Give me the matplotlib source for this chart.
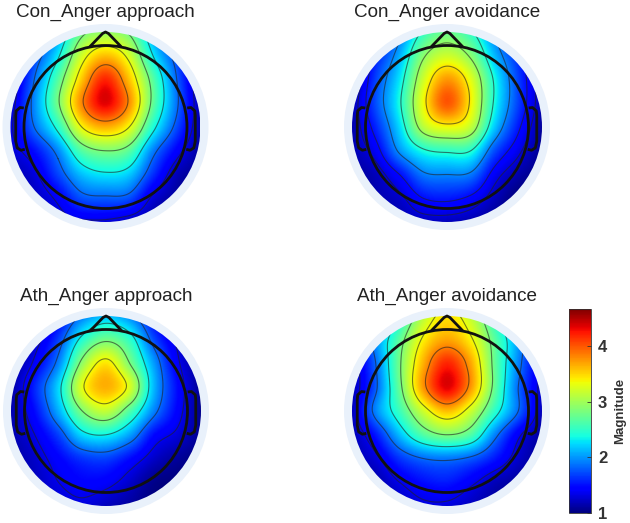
import numpy as np
import matplotlib
matplotlib.use("Agg")
import matplotlib.pyplot as plt
from matplotlib.patches import Circle, PathPatch
from matplotlib.path import Path
from matplotlib.cm import ScalarMappable
from matplotlib.colors import Normalize

plt.rcParams['font.family'] = ['Liberation Sans', 'DejaVu Sans']

W, H = 630, 523

titles = ["Con_Anger approach", "Con_Anger avoidance",
          "Ath_Anger approach", "Ath_Anger avoidance"]

# Scalp positions (fraction of the map radius)
grid_x = [-1, -0.75, -0.5, -0.25, 0, 0.25, 0.5, 0.75, 1]
grid_y = [1, 0.75, 0.5, 0.25, 0, -0.25, -0.5, -0.75, -1]

con_approach = [
    [1.00, 1.40, 2.00, 2.75, 2.95, 2.80, 2.05, 1.40, 1.00],
    [1.05, 1.65, 2.30, 3.20, 3.60, 3.25, 2.35, 1.70, 1.05],
    [1.10, 1.85, 2.65, 3.55, 4.20, 3.60, 2.70, 1.85, 1.10],
    [1.20, 1.95, 2.80, 3.80, 4.35, 3.80, 2.75, 1.90, 1.15],
    [1.30, 1.85, 2.45, 3.35, 3.65, 3.35, 2.45, 1.75, 1.15],
    [1.25, 1.50, 1.95, 2.65, 2.85, 2.70, 1.95, 1.45, 1.10],
    [1.15, 1.30, 1.70, 2.15, 2.30, 2.20, 1.65, 1.20, 1.05],
    [1.10, 1.20, 1.40, 1.75, 1.80, 1.75, 1.30, 1.10, 1.00],
    [1.05, 1.15, 1.25, 1.30, 1.30, 1.20, 1.10, 1.00, 1.00],
]
con_avoidance = [
    [1.00, 1.30, 1.85, 2.50, 2.75, 2.50, 1.90, 1.35, 1.00],
    [1.05, 1.55, 2.10, 2.90, 3.20, 2.90, 2.15, 1.60, 1.10],
    [1.05, 1.70, 2.30, 3.20, 3.75, 3.30, 2.40, 1.70, 1.15],
    [1.15, 1.75, 2.40, 3.35, 4.00, 3.40, 2.40, 1.70, 1.15],
    [1.15, 1.60, 2.25, 3.10, 3.35, 3.15, 2.20, 1.55, 1.10],
    [1.15, 1.40, 2.00, 2.40, 2.50, 2.45, 1.75, 1.35, 1.05],
    [1.10, 1.20, 1.50, 1.90, 1.95, 1.90, 1.40, 1.15, 1.00],
    [1.05, 1.15, 1.25, 1.50, 1.55, 1.45, 1.20, 1.00, 1.00],
    [1.00, 1.10, 1.15, 1.20, 1.20, 1.15, 1.05, 1.00, 1.00],
]
ath_approach = [
    [1.00, 1.10, 1.40, 1.90, 2.15, 1.95, 1.45, 1.15, 1.00],
    [1.00, 1.25, 1.70, 2.45, 2.80, 2.50, 1.75, 1.30, 1.00],
    [1.05, 1.40, 1.95, 2.95, 3.45, 2.85, 2.05, 1.40, 1.05],
    [1.10, 1.60, 2.25, 3.30, 3.65, 3.25, 2.15, 1.50, 1.05],
    [1.15, 1.50, 2.10, 2.85, 3.15, 2.65, 1.95, 1.45, 1.05],
    [1.15, 1.35, 1.70, 2.25, 2.35, 2.05, 1.50, 1.30, 1.05],
    [1.10, 1.25, 1.45, 1.65, 1.70, 1.50, 1.25, 1.10, 1.00],
    [1.10, 1.20, 1.35, 1.45, 1.42, 1.25, 1.05, 1.00, 1.00],
    [1.05, 1.15, 1.25, 1.30, 1.20, 1.10, 1.00, 1.00, 1.00],
]
ath_avoidance = [
    [1.05, 1.60, 2.35, 3.10, 3.45, 3.15, 2.45, 1.70, 1.05],
    [1.10, 1.95, 2.70, 3.40, 3.70, 3.40, 2.70, 2.00, 1.15],
    [1.15, 1.85, 2.80, 3.65, 4.20, 3.70, 2.75, 1.95, 1.25],
    [1.15, 1.80, 2.75, 3.75, 4.35, 3.75, 2.75, 1.85, 1.25],
    [1.20, 1.95, 2.55, 3.20, 3.60, 3.20, 2.50, 1.85, 1.20],
    [1.15, 1.55, 2.15, 2.65, 2.85, 2.65, 1.95, 1.40, 1.10],
    [1.15, 1.30, 1.65, 1.85, 1.90, 1.80, 1.55, 1.25, 1.05],
    [1.10, 1.15, 1.35, 1.50, 1.55, 1.40, 1.20, 1.10, 1.00],
    [1.05, 1.10, 1.20, 1.30, 1.30, 1.20, 1.10, 1.00, 1.00],
]
panels = [con_approach, con_avoidance, ath_approach, ath_avoidance]

contour_levels = [
    [1.35, 1.85, 2.35, 2.85, 3.35, 3.85],
    [1.30, 1.50, 1.95, 2.45, 2.95, 3.45],
    [1.35, 1.85, 2.35, 2.85, 3.35],
    [1.35, 1.85, 2.35, 2.85, 3.35, 3.85],
]

colorbar_ticks = [1, 2, 3, 4]
vmin, vmax = 1.0, 4.67

centres_px = [(105.5, 127), (447, 127), (106, 411), (447, 411)]
R_DISC = 95.0   # px
R_RING = 103.0  # px
R_HEAD = 81.5 / R_DISC
BOX = 112.0     # half size of each map axes, px
STEPS = 24


def smooth_1d(v):
    """Catmull-Rom curve through the electrode values along one line."""
    p = np.r_[2 * v[0] - v[1], v, 2 * v[-1] - v[-2]]
    t = np.linspace(0, len(v) - 1, (len(v) - 1) * STEPS + 1)
    i = np.minimum(t.astype(int), len(v) - 2)
    f = t - i
    a, b, c, d = p[i], p[i + 1], p[i + 2], p[i + 3]
    return 0.5 * (2 * b + (c - a) * f + (2 * a - 5 * b + 4 * c - d) * f ** 2
                  + (3 * b - a - 3 * c + d) * f ** 3)


def smooth_map(values):
    z = np.array(values, dtype=float)
    z = np.apply_along_axis(smooth_1d, 0, z)
    return np.apply_along_axis(smooth_1d, 1, z)


fig = plt.figure(figsize=(W / 100, H / 100), dpi=100, facecolor='white')
norm = Normalize(vmin, vmax)
cmap = plt.get_cmap('jet')

for values, levels, title, (cx, cy) in zip(panels, contour_levels, titles, centres_px):
    ax = fig.add_axes([(cx - BOX) / W, 1 - (cy + BOX) / H, 2 * BOX / W, 2 * BOX / H])
    ax.axis('off')
    ax.add_patch(Circle((0, 0), R_RING / R_DISC, fc='#e9f1fb', ec='none', zorder=0))

    zf = smooth_map(values)
    yf = np.linspace(grid_y[0], grid_y[-1], zf.shape[0])
    xf = np.linspace(grid_x[0], grid_x[-1], zf.shape[1])
    clip = Circle((0, 0), 1.0, transform=ax.transData)
    im = ax.imshow(zf, extent=(grid_x[0], grid_x[-1], grid_y[-1], grid_y[0]), origin='upper',
                   cmap=cmap, norm=norm, interpolation='bilinear', zorder=1)
    im.set_clip_path(clip)
    cs = ax.contour(xf, yf, zf, levels=levels, colors='#222222', linewidths=0.8,
                    alpha=0.6, zorder=2)
    cs.set_clip_path(clip)
    ax.set_xlim(-BOX / R_DISC, BOX / R_DISC)
    ax.set_ylim(-BOX / R_DISC, BOX / R_DISC)

    k = dict(fc='none', ec='#111111', lw=2.0, zorder=3)
    ax.add_patch(Circle((0, 0), R_HEAD, **k))
    nose = Path([(-0.165, 0.845), (-0.03, 0.985), (0, 1.0), (0.03, 0.985), (0.165, 0.845)])
    ax.add_patch(PathPatch(nose, joinstyle='round', **k))
    for s in (-1, 1):
        ear = Path([(s * 0.86, 0.20), (s * 0.90, 0.205), (s * 0.94, 0.17), (s * 0.945, 0.12),
                    (s * 0.945, -0.15), (s * 0.93, -0.22), (s * 0.89, -0.245), (s * 0.85, -0.235)])
        ax.add_patch(PathPatch(ear, joinstyle='round', **k))

    fig.text(cx / W, 1 - (12 if cy < 200 else 296) / H, title, ha='center', va='center',
             fontsize=13.6, color='#222222')

cax = fig.add_axes([569 / W, 1 - 513 / H, 22 / W, 204 / H])
cb = fig.colorbar(ScalarMappable(norm=norm, cmap=cmap), cax=cax, ticks=colorbar_ticks)
cb.outline.set_linewidth(0.6)
cb.outline.set_edgecolor('#333333')
cax.tick_params(axis='y', direction='in', length=3, width=0.6, pad=5, color='#333333')
for t in cax.get_yticklabels():
    t.set_fontweight('bold')
    t.set_fontsize(12)
    t.set_color('#333333')
fig.text(620 / W, 1 - 411 / H, 'Magnitude', rotation=90, ha='center', va='center',
         fontsize=9.5, fontweight='bold', color='#333333')

fig.savefig('out.png', dpi=100, facecolor='white')
